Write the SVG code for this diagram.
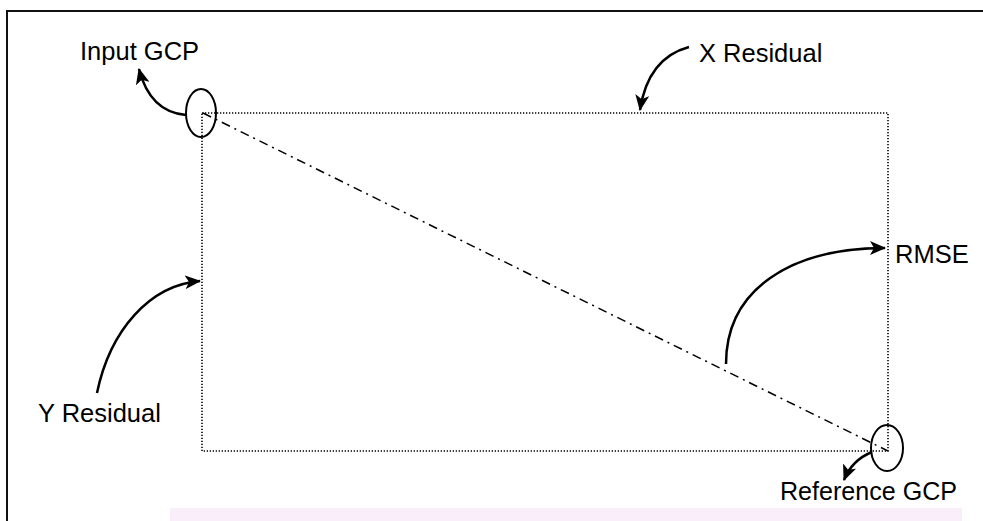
<svg xmlns="http://www.w3.org/2000/svg" width="983" height="521" viewBox="0 0 983 521">
<defs>
<style>
.lbl{font-family:"Liberation Sans",Arial,sans-serif;font-size:25.5px;fill:#000}
.arr{fill:none;stroke:#000;stroke-width:2.5;marker-end:url(#ah)}
.dot{fill:none;stroke:#000;stroke-width:1.6;stroke-dasharray:1.3 1.7}
.ell{fill:none;stroke:#000;stroke-width:2}
</style>
<marker id="ah" markerUnits="userSpaceOnUse" markerWidth="16" markerHeight="14" viewBox="0 0 16 14" refX="15" refY="7" orient="auto">
<path d="M0,0 L16,7 L0,14 L4,7 z" fill="#000"/>
</marker>
</defs>
<rect width="983" height="521" fill="#fff"/>
<rect x="170" y="508" width="792" height="13" fill="#fbeefb"/>
<g id="frame">
<path d="M7,521 L7,11 L983,11" fill="none" stroke="#111" stroke-width="2"/>
</g>
<g id="residual-box">
<rect class="dot" x="202" y="113" width="686" height="338"/>
</g>
<g id="rmse-line">
<path d="M203,113 L888,451" fill="none" stroke="#000" stroke-width="1.5" stroke-dasharray="9 5 2 5"/>
</g>
<g id="input-gcp">
<ellipse class="ell" cx="201" cy="113" rx="15" ry="24"/>
<text class="lbl" x="80" y="60">Input GCP</text>
</g>
<g id="reference-gcp">
<ellipse class="ell" cx="887" cy="448" rx="16" ry="23"/>
<text class="lbl" x="780" y="500" textLength="177" lengthAdjust="spacingAndGlyphs">Reference GCP</text>
</g>
<g id="x-residual"><text class="lbl" x="699" y="62">X Residual</text></g>
<g id="y-residual"><text class="lbl" x="38" y="422">Y Residual</text></g>
<g id="rmse"><text class="lbl" x="895" y="263">RMSE</text></g>
<g id="connectors">
<path class="arr" d="M186,115 Q150,112 139,69"/>
<path class="arr" d="M689,47 Q648,58 640,110"/>
<path class="arr" d="M726,364 C726,290 790,248 885,248"/>
<path class="arr" d="M97,393 C110,330 150,285 200,281"/>
<path class="arr" d="M872,452 Q852,460 844,480"/>
</g>
</svg>
